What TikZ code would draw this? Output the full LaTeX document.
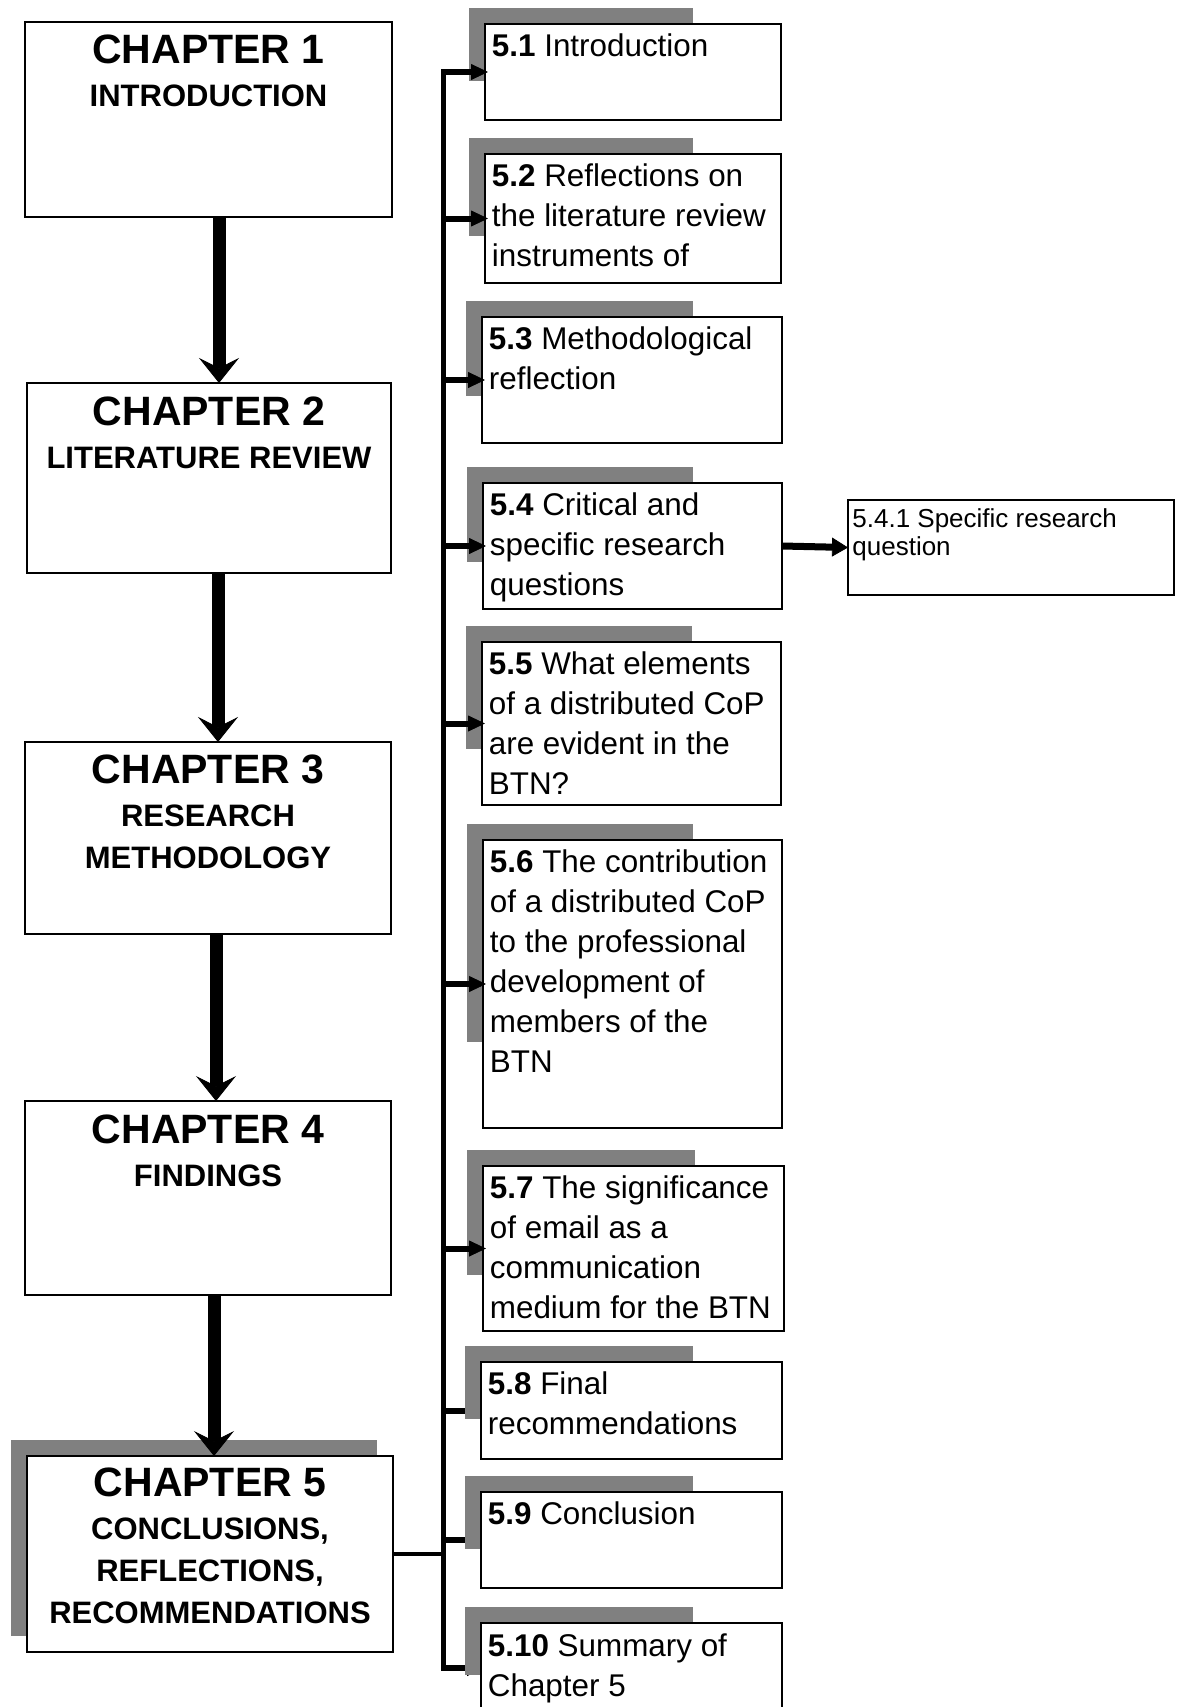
\documentclass[tikz,border=0pt]{standalone}
\usepackage{fontspec}
\setmainfont{Liberation Sans}
\usetikzlibrary{arrows.meta,calc,fit,backgrounds}

\definecolor{shadowgray}{RGB}{128,128,128}

% fonts
\newcommand\chapfont{\fontsize{15.5}{21}\selectfont\bfseries}
\newcommand\chaptitle[1]{{\fontsize{20.5}{21}\selectfont #1}}
\newcommand\subfont{\fontsize{15.7}{20}\selectfont}
\newcommand\smallsubfont{\fontsize{13}{14.4}\selectfont}
% multi-line text whose baseline is the first line
\newcommand\leftlines[1]{\begin{tabular}[t]{@{}l@{}}#1\end{tabular}}
\newcommand\centerlines[1]{\begin{tabular}[t]{@{}c@{}}#1\end{tabular}}
% grey block behind a section box: shifted up-left, three quarters of its size
\newcommand\dropshade[1]{%
  \fill[shadowgray] let \p1=(#1.north west), \p2=(#1.south east) in
    (\x1-8pt,\y1+8pt) rectangle ({\x1-8pt+0.756*(\x2-\x1)},{\y1+8pt+0.756*(\y2-\y1)});}

\begin{document}
\begin{tikzpicture}[x=0.5pt, y=-0.5pt,
  box/.style={draw=black, line width=0.8pt, fill=white, inner sep=0pt, outer sep=0pt},
  chaptext/.style={anchor=base, inner sep=0pt, font=\chapfont},
  subtext/.style={anchor=base west, inner sep=0pt, font=\subfont},
  smalltext/.style={anchor=base west, inner sep=0pt, font=\smallsubfont},
  chaparrow/.style={line width=6.5pt, -{Stealth[length=12.5pt, width=20pt, inset=5pt, line width=0.4pt]}},
  subarrow/.style={line width=3pt, -{Triangle[length=8.5pt, width=8pt, line width=0.4pt]}, shorten >=-1.5pt},
  sidearrow/.style={line width=3.5pt, -{Triangle[length=8pt, width=9.5pt, line width=0.4pt]}},
  spineline/.style={line width=2.5pt, line cap=rect},
  branchline/.style={line width=2pt}
]
\useasboundingbox (0,0) rectangle (1177,1707);

% chapter boxes
\node[box, fit={(25,22) (392,217)}] (ch1) {};
\node[box, fit={(27,383) (391,573)}] (ch2) {};
\node[box, fit={(25,742) (391,934)}] (ch3) {};
\node[box, fit={(25,1101) (391,1295)}] (ch4) {};
\node[box, fit={(27,1456) (393,1652)}] (ch5) {};

% section boxes of chapter 5
\node[box, fit={(485,24) (781,120)}] (s51) {};
\node[box, fit={(485,154) (781,283)}] (s52) {};
\node[box, fit={(482,317) (782,443)}] (s53) {};
\node[box, fit={(483,483) (782,609)}] (s54) {};
\node[box, fit={(848,500) (1174,595)}] (s541) {};
\node[box, fit={(482,642) (781,805)}] (s55) {};
\node[box, fit={(483,840) (782,1128)}] (s56) {};
\node[box, fit={(483,1166) (784,1331)}] (s57) {};
\node[box, fit={(481,1362) (782,1459)}] (s58) {};
\node[box, fit={(481,1492) (782,1588)}] (s59) {};
\node[box, fit={(481,1623) (782,1713)}] (s510) {};

\coordinate (spinex) at (443,0);

\begin{pgfonlayer}{background}
  \fill[white] (0,0) rectangle (1177,1707);
  % vertical bus and the link from chapter 5
  \draw[spineline] (spinex |- s51.west) -- (spinex |- s510.west);
  \draw[branchline] (ch5.east) -- (spinex |- ch5.east);
  % these three run underneath the grey blocks
  \draw[subarrow] (spinex |- s58.west) -- (s58.west);
  \draw[subarrow] (spinex |- s59.west) -- (s59.west);
  \draw[subarrow] (spinex |- s510.west) -- (s510.west);
  % grey blocks
  \fill[shadowgray] ($(ch5.north west)+(-16,-16)$) rectangle ($(ch5.south east)+(-16,-16)$);
  \dropshade{s51}\dropshade{s52}\dropshade{s53}\dropshade{s54}\dropshade{s55}
  \dropshade{s56}\dropshade{s57}\dropshade{s58}\dropshade{s59}\dropshade{s510}
\end{pgfonlayer}

% bus arrows drawn over the grey blocks
\draw[subarrow] (spinex |- s51.west) -- (s51.west);
\draw[subarrow] (spinex |- s52.west) -- (s52.west);
\draw[subarrow] (spinex |- s53.west) -- (s53.west);
\draw[subarrow] (spinex |- s54.west) -- (s54.west);
\draw[subarrow] (spinex |- s55.west) -- (s55.west);
\draw[subarrow] (spinex |- s56.west) -- (s56.west);
\draw[subarrow] (spinex |- s57.west) -- (s57.west);
\draw[sidearrow] (s54.east) -- (s541.west);

% chapter sequence
\draw[chaparrow] (219,0 |- ch1.south) -- (219,0 |- ch2.north);
\draw[chaparrow] (218,0 |- ch2.south) -- (218,0 |- ch3.north);
\draw[chaparrow] (216,0 |- ch3.south) -- (216,0 |- ch4.north);
\draw[chaparrow] (214,0 |- ch4.south) -- (214,0 |- ch5.north);

% chapter labels
\node[chaptext] (t1) at ($(ch1.north)+(0,42)$) {\centerlines{\chaptitle{CHAPTER 1}\\[0.5pt] INTRODUCTION}};
\node[chaptext] (t2) at ($(ch2.north)+(0,42)$) {\centerlines{\chaptitle{CHAPTER 2}\\[0.5pt] LITERATURE REVIEW}};
\node[chaptext] (t3) at ($(ch3.north)+(0,41)$) {\centerlines{\chaptitle{CHAPTER 3}\\[0.5pt] RESEARCH\\ METHODOLOGY}};
\node[chaptext] (t4) at ($(ch4.north)+(0,42)$) {\centerlines{\chaptitle{CHAPTER 4}\\[0.5pt] FINDINGS}};
\node[chaptext] (t5) at ($(ch5.north)+(0,40)$) {\centerlines{\chaptitle{CHAPTER 5}\\[0.5pt] CONCLUSIONS,\\ REFLECTIONS,\\ RECOMMENDATIONS}};

% section labels
\node[subtext] (u51) at ($(s51.north west)+(6.5,32.5)$) {\leftlines{\textbf{5.1} Introduction}};
\node[subtext] (u52) at ($(s52.north west)+(6.5,32.5)$) {\leftlines{\textbf{5.2} Reflections on\\ the literature review\\ instruments of}};
\node[subtext] (u53) at ($(s53.north west)+(6.5,32.5)$) {\leftlines{\textbf{5.3} Methodological\\ reflection}};
\node[subtext] (u54) at ($(s54.north west)+(6.5,32.5)$) {\leftlines{\textbf{5.4} Critical and\\ specific research\\ questions}};
\node[smalltext] (u541) at ($(s541.north west)+(4,27)$) {\leftlines{5.4.1 Specific research\\ question}};
\node[subtext] (u55) at ($(s55.north west)+(6.5,32.5)$) {\leftlines{\textbf{5.5} What elements\\ of a distributed CoP\\ are evident in the\\ BTN?}};
\node[subtext] (u56) at ($(s56.north west)+(6.5,32.5)$) {\leftlines{\textbf{5.6} The contribution\\ of a distributed CoP\\ to the professional\\ development of\\ members of the\\ BTN}};
\node[subtext] (u57) at ($(s57.north west)+(6.5,32.5)$) {\leftlines{\textbf{5.7} The significance\\ of email as a\\ communication\\ medium for the BTN}};
\node[subtext] (u58) at ($(s58.north west)+(6.5,32.5)$) {\leftlines{\textbf{5.8} Final\\ recommendations}};
\node[subtext] (u59) at ($(s59.north west)+(6.5,32.5)$) {\leftlines{\textbf{5.9} Conclusion}};
\node[subtext] (u510) at ($(s510.north west)+(6.5,33)$) {\leftlines{\textbf{5.10} Summary of\\ Chapter 5}};
\end{tikzpicture}
\end{document}
